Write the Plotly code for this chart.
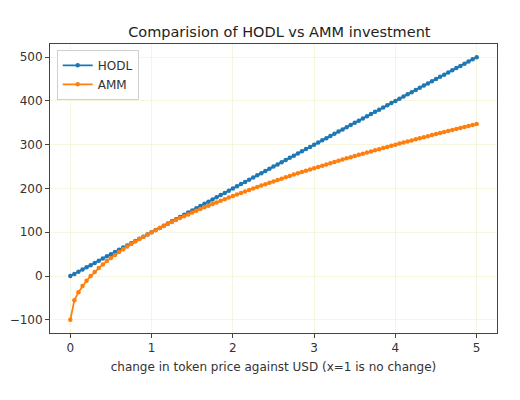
import plotly.graph_objects as go

# Price multiplier (x=1 means no change)
price_change = [0.0, 0.05, 0.1, 0.15, 0.2, 0.25, 0.3, 0.35, 0.4, 0.45,
                0.5, 0.55, 0.6, 0.65, 0.7, 0.75, 0.8, 0.85, 0.9, 0.95,
                1.0, 1.05, 1.1, 1.15, 1.2, 1.25, 1.3, 1.35, 1.4, 1.45,
                1.5, 1.55, 1.6, 1.65, 1.7, 1.75, 1.8, 1.85, 1.9, 1.95,
                2.0, 2.05, 2.1, 2.15, 2.2, 2.25, 2.3, 2.35, 2.4, 2.45,
                2.5, 2.55, 2.6, 2.65, 2.7, 2.75, 2.8, 2.85, 2.9, 2.95,
                3.0, 3.05, 3.1, 3.15, 3.2, 3.25, 3.3, 3.35, 3.4, 3.45,
                3.5, 3.55, 3.6, 3.65, 3.7, 3.75, 3.8, 3.85, 3.9, 3.95,
                4.0, 4.05, 4.1, 4.15, 4.2, 4.25, 4.3, 4.35, 4.4, 4.45,
                4.5, 4.55, 4.6, 4.65, 4.7, 4.75, 4.8, 4.85, 4.9, 4.95,
                5.0]

hodl = [0, 5, 10, 15, 20, 25, 30, 35, 40, 45,
        50, 55, 60, 65, 70, 75, 80, 85, 90, 95,
        100, 105, 110, 115, 120, 125, 130, 135, 140, 145,
        150, 155, 160, 165, 170, 175, 180, 185, 190, 195,
        200, 205, 210, 215, 220, 225, 230, 235, 240, 245,
        250, 255, 260, 265, 270, 275, 280, 285, 290, 295,
        300, 305, 310, 315, 320, 325, 330, 335, 340, 345,
        350, 355, 360, 365, 370, 375, 380, 385, 390, 395,
        400, 405, 410, 415, 420, 425, 430, 435, 440, 445,
        450, 455, 460, 465, 470, 475, 480, 485, 490, 495,
        500]

amm = [-100.0, -55.3, -36.8, -22.5, -10.6, 0.0, 9.5, 18.3, 26.5, 34.2,
       41.4, 48.3, 54.9, 61.2, 67.3, 73.2, 78.9, 84.4, 89.7, 94.9,
       100.0, 104.9, 109.8, 114.5, 119.1, 123.6, 128.0, 132.4, 136.6, 140.8,
       145.0, 149.0, 153.0, 156.9, 160.8, 164.6, 168.3, 172.0, 175.7, 179.3,
       182.8, 186.4, 189.8, 193.3, 196.6, 200.0, 203.3, 206.6, 209.8, 213.0,
       216.2, 219.4, 222.5, 225.6, 228.6, 231.7, 234.7, 237.6, 240.6, 243.5,
       246.4, 249.3, 252.1, 255.0, 257.8, 260.6, 263.3, 266.1, 268.8, 271.5,
       274.2, 276.8, 279.5, 282.1, 284.7, 287.3, 289.9, 292.4, 295.0, 297.5,
       300.0, 302.5, 305.0, 307.4, 309.9, 312.3, 314.7, 317.1, 319.5, 321.9,
       324.3, 326.6, 328.9, 331.3, 333.6, 335.9, 338.2, 340.5, 342.7, 345.0,
       347.2]

x_ticks = [0, 1, 2, 3, 4, 5]
y_ticks = [-100, 0, 100, 200, 300, 400, 500]
y_tick_labels = ['\u2212100', '0', '100', '200', '300', '400', '500']

fig = go.Figure()
fig.add_trace(go.Scatter(x=price_change, y=hodl, name='HODL', mode='lines+markers',
                         line=dict(color='#1f77b4', width=1.8),
                         marker=dict(color='#1f77b4', size=4.5)))
fig.add_trace(go.Scatter(x=price_change, y=amm, name='AMM', mode='lines+markers',
                         line=dict(color='#ff7f0e', width=1.8),
                         marker=dict(color='#ff7f0e', size=4.5)))

axis_style = dict(showline=True, linecolor='#444', linewidth=1, mirror=True,
                  ticks='outside', ticklen=4, tickcolor='#444',
                  showgrid=True, gridcolor='#f6f6de', gridwidth=1, zeroline=False,
                  tickfont=dict(size=12, color='#333'), automargin=False)

# page body adds ~8px offset, so figure is a bit smaller than the window
fig.update_layout(
    width=512, height=392,
    margin=dict(l=42, r=23, t=36, b=67),
    paper_bgcolor='white', plot_bgcolor='white',
    font=dict(family='DejaVu Sans', color='#333'),
    title=dict(text='Comparision of HODL vs AMM investment', x=0.53, xanchor='center',
               y=0.927, yanchor='bottom', font=dict(size=14.5, color='#222')),
    showlegend=True,
    legend=dict(x=0.015, y=0.98, xanchor='left', yanchor='top',
                bgcolor='white', bordercolor='#d0d0d0', borderwidth=1,
                font=dict(size=12, color='#333'), tracegroupgap=0,
                itemwidth=30),
)
fig.update_xaxes(range=[-0.25, 5.25], tickvals=x_ticks,
                 title=dict(text='change in token price against USD (x=1 is no change)',
                            font=dict(size=12, color='#333'), standoff=8),
                 **axis_style)
fig.update_yaxes(range=[-130, 530], tickvals=y_ticks, ticktext=y_tick_labels,
                 **axis_style)

fig.write_html("out.html")
